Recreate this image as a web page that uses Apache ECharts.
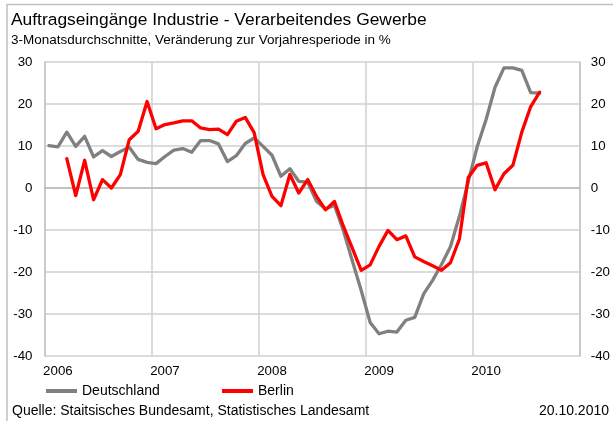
<!DOCTYPE html>
<html>
<head>
<meta charset="utf-8">
<script src="https://cdn.jsdelivr.net/npm/echarts@6/dist/echarts.min.js"></script>
<style>
  html, body { margin: 0; padding: 0; background: #fff; }
  #chart { width: 613px; height: 421px; }
</style>
</head>
<body>
<div id="chart"></div>
<script>
// Years shown on the time axis; one category per month
const years = ['2006', '2007', '2008', '2009', '2010'];
const months = [];
years.forEach(function (y) {
  for (let m = 1; m <= 12; m++) months.push(y + '-' + String(m).padStart(2, '0'));
});

// 3-month averages, change vs. prior-year period in % (Jan 2006 .. Aug 2010)
const deutschland = [
  10.1, 9.8, 13.3, 9.9, 12.3, 7.4, 8.9, 7.5, 8.7, 9.7, 6.8, 6.1,
  5.8, 7.5, 9.0, 9.4, 8.5, 11.3, 11.3, 10.5, 6.3, 7.7, 10.6, 11.9,
  9.9, 7.8, 2.8, 4.6, 1.6, 1.4, -3.2, -5.0, -4.1, -10.1, -17.3, -24.4,
  -32.0, -34.7, -34.1, -34.3, -31.5, -30.8, -25.2, -22.0, -18.2, -14.0, -6.8, 1.5,
  9.8, 16.3, 24.0, 28.6, 28.6, 28.0, 22.7, 22.6
];
const berlin = [
  null, null, 7.0, -1.8, 6.6, -2.8, 2.0, 0.0, 3.2, 11.5, 13.5, 20.6,
  14.1, 15.1, 15.5, 16.0, 16.0, 14.3, 13.9, 14.0, 12.7, 15.9, 16.8, 13.2,
  3.2, -2.0, -4.2, 3.2, -1.2, 2.0, -2.0, -5.2, -3.2, -9.1, -14.3, -19.6,
  -18.3, -13.9, -10.1, -12.3, -11.4, -16.4, -17.5, -18.5, -19.6, -17.8, -12.2, 2.5,
  5.4, 6.0, -0.4, 3.4, 5.4, 13.3, 19.4, 22.8
];

// Value axis range and step
const yMin = -40, yMax = 30, yStep = 10;

const FONT = '"Liberation Sans", Arial, sans-serif';
const gridColor = '#d0d0d0';

const chart = echarts.init(document.getElementById('chart'), null, { renderer: 'canvas' });

const valueAxisBase = {
  type: 'value', min: yMin, max: yMax, interval: yStep,
  axisTick: { show: false },
  axisLine: { show: true, lineStyle: { color: '#c4c4c4', width: 1.5 } }
};

chart.setOption({
  animation: false,
  backgroundColor: '#fff',
  textStyle: { fontFamily: FONT },
  graphic: [{
    type: 'rect',
    shape: { x: 7, y: 4.5, width: 1000, height: 1000 },
    style: { fill: 'none', stroke: '#c0c0c0', lineWidth: 1.5 },
    silent: true
  }],
  title: [
    { text: 'Auftragseingänge Industrie - Verarbeitendes Gewerbe', left: 11, top: 12, padding: 0,
      textStyle: { fontSize: 17.4, fontWeight: 'normal', color: '#000', fontFamily: FONT } },
    { text: '3-Monatsdurchschnitte, Veränderung zur Vorjahresperiode in %', left: 11, top: 33, padding: 0,
      textStyle: { fontSize: 13.5, fontWeight: 'normal', color: '#000', fontFamily: FONT } },
    { text: 'Quelle: Staitsisches Bundesamt, Statistisches Landesamt', left: 12, top: 404, padding: 0,
      textStyle: { fontSize: 14, fontWeight: 'normal', color: '#000', fontFamily: FONT } },
    { text: '20.10.2010', right: 4, top: 404, padding: 0,
      textStyle: { fontSize: 14, fontWeight: 'normal', color: '#000', fontFamily: FONT } }
  ],
  legend: [
    { data: ['Deutschland'], left: 46, top: 384, padding: 0, icon: 'rect', itemWidth: 31, itemHeight: 4,
      textStyle: { fontSize: 14, color: '#000', fontFamily: FONT } },
    { data: ['Berlin'], left: 222, top: 384, padding: 0, icon: 'rect', itemWidth: 31, itemHeight: 4,
      textStyle: { fontSize: 14, color: '#000', fontFamily: FONT } }
  ],
  grid: { left: 44.5, right: 32.5, top: 62, bottom: 65, containLabel: false },
  xAxis: {
    type: 'category', data: months, boundaryGap: true,
    axisLine: { show: true, lineStyle: { color: '#b8b8b8', width: 1.5 } },
    axisTick: { show: false },
    axisLabel: {
      interval: function (i) { return i % 12 === 1; },
      formatter: function (v) { return v.slice(0, 4); },
      color: '#000', fontSize: 13.3, fontFamily: FONT, margin: 9
    },
    splitLine: {
      show: true,
      interval: function (i) { return i % 12 === 0; },
      lineStyle: { color: gridColor, width: 1.5 }
    }
  },
  yAxis: [
    Object.assign({}, valueAxisBase, {
      position: 'left',
      axisLabel: { color: '#000', fontSize: 13.3, fontFamily: FONT, margin: 12 },
      splitLine: { show: true, lineStyle: { color: gridColor, width: 1.5 } }
    }),
    Object.assign({}, valueAxisBase, {
      position: 'right',
      axisLabel: { color: '#000', fontSize: 13.3, fontFamily: FONT, margin: 11 },
      splitLine: { show: false }
    })
  ],
  series: [
    { name: 'Deutschland', type: 'line', data: deutschland, symbol: 'none',
      itemStyle: { color: '#808080' },
      lineStyle: { color: '#808080', width: 3.3, cap: 'round', join: 'round' } },
    { name: 'Berlin', type: 'line', data: berlin, symbol: 'none',
      itemStyle: { color: '#ff0000' },
      lineStyle: { color: '#ff0000', width: 3.3, cap: 'round', join: 'round' } }
  ]
});
</script>
</body>
</html>
